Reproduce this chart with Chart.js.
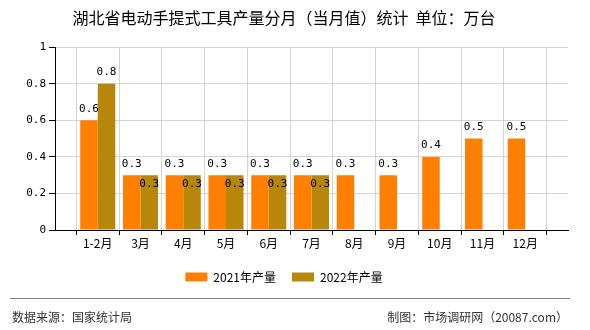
<!DOCTYPE html>
<html>
<head>
<meta charset="utf-8">
<script src="https://cdn.jsdelivr.net/npm/chart.js@4/dist/chart.umd.min.js"></script>
<style>
  html, body { margin: 0; padding: 0; background: #fff; }
  #wrap { position: relative; width: 590px; height: 330px; }
  #footLine { position: absolute; left: 10px; top: 298px; width: 560px; height: 1px; background: #808080; }
  .foot { position: absolute; top: 308px; font: 12px "Noto Sans CJK SC", sans-serif; color: #333; }
</style>
</head>
<body>
<div id="wrap">
  <canvas id="chart" width="590" height="330"></canvas>
  <div id="footLine"></div>
  <div class="foot" style="left:12px">数据来源：国家统计局</div>
  <div class="foot" style="right:22px">制图：市场调研网（20087.com）</div>
</div>
<script>
const months = ["1-2月", "3月", "4月", "5月", "6月", "7月", "8月", "9月", "10月", "11月", "12月"];
const output2021 = [0.6, 0.3, 0.3, 0.3, 0.3, 0.3, 0.3, 0.3, 0.4, 0.5, 0.5];
const output2022 = [0.8, 0.3, 0.3, 0.3, 0.3, 0.3, null, null, null, null, null];
const yTicks = [0, 0.2, 0.4, 0.6, 0.8, 1];

// empty slot at both ends so the bars sit on the gridlines
const labels = ["", ...months, ""];
const pad = arr => [null, ...arr, null];

const valueLabels = {
  id: "valueLabels",
  afterDatasetsDraw(chart) {
    const ctx = chart.ctx;
    ctx.save();
    ctx.font = "11px 'DejaVu Sans Mono', monospace";
    ctx.fillStyle = "#000";
    ctx.textAlign = "center";
    ctx.textBaseline = "bottom";
    const d0 = chart.data.datasets[0].data;
    chart.data.datasets.forEach((ds, di) => {
      chart.getDatasetMeta(di).data.forEach((bar, i) => {
        const v = ds.data[i];
        if (v == null) return;
        let y = bar.y - 6;
        // second series label drops into the bar when it would collide with the first
        if (di === 1 && d0[i] === v) y = bar.y + 14;
        ctx.fillText(v.toString(), bar.x, y);
      });
    });
    ctx.restore();
  }
};

new Chart(document.getElementById("chart"), {
  type: "bar",
  data: {
    labels: labels,
    datasets: [
      { label: "2021年产量", data: pad(output2021), backgroundColor: "#FF8000" },
      { label: "2022年产量", data: pad(output2022), backgroundColor: "#B8860B" }
    ]
  },
  options: {
    responsive: false,
    animation: false,
    layout: { padding: { left: 0, right: 22, top: 0, bottom: 37 } },
    datasets: { bar: { categoryPercentage: 0.82, barPercentage: 1 } },
    scales: {
      x: {
        offset: false,
        grid: { color: "#d4d4d4", tickColor: "#000", tickLength: 5 },
        border: { color: "#000" },
        ticks: {
          autoSkip: false, maxRotation: 0, padding: 1, color: "#000",
          font: { family: "'Noto Sans CJK SC', sans-serif", size: 12 }
        },
        afterFit: s => { s.height = 25; }
      },
      y: {
        min: 0, max: 1,
        afterBuildTicks: s => { s.ticks = yTicks.map(v => ({ value: v })); },
        grid: { color: "#d4d4d4", tickColor: "#000", tickLength: 6 },
        border: { color: "#000" },
        ticks: {
          padding: 3, color: "#000",
          font: { family: "'DejaVu Sans Mono', monospace", size: 11 },
          callback: v => v.toString()
        },
        afterFit: s => { s.width = 55; }
      }
    },
    plugins: {
      title: {
        display: true,
        text: "湖北省电动手提式工具产量分月（当月值）统计  单位：万台",
        color: "#000",
        font: { family: "'Noto Sans CJK SC', sans-serif", size: 16, weight: "normal" },
        padding: { top: 8, bottom: 20 }
      },
      legend: {
        position: "bottom",
        labels: {
          boxWidth: 22, boxHeight: 9, padding: 16, color: "#000",
          font: { family: "'Noto Sans CJK SC', sans-serif", size: 12 }
        }
      },
      tooltip: { enabled: false }
    }
  },
  plugins: [valueLabels]
});
</script>
</body>
</html>
